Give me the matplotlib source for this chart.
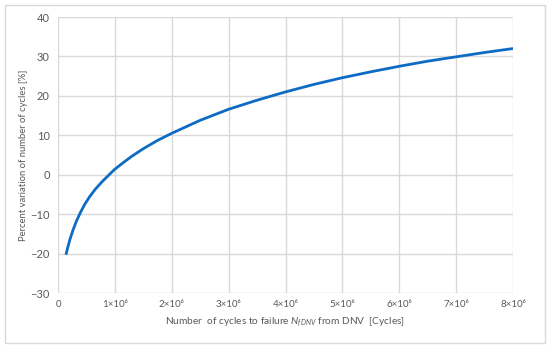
import matplotlib
matplotlib.use("Agg")
import matplotlib.pyplot as plt
from matplotlib.patches import Rectangle

# Data
cycles = [0.14e6, 0.17e6, 0.21e6, 0.26e6, 0.32e6, 0.39e6, 0.47e6, 0.56e6, 0.66e6,
          0.78e6, 0.90e6, 1.0e6, 1.15e6, 1.3e6, 1.5e6, 1.75e6, 2.0e6, 2.5e6, 3.0e6,
          3.5e6, 4.0e6, 4.5e6, 5.0e6, 5.5e6, 6.0e6, 6.5e6, 7.0e6, 7.5e6, 8.0e6]
variation = [-20.3, -18.5, -16.4, -14.2, -11.9, -9.7, -7.5, -5.5, -3.6,
             -1.7, 0.0, 1.4, 3.1, 4.7, 6.6, 8.7, 10.5, 13.8, 16.6,
             18.9, 21.0, 22.9, 24.6, 26.1, 27.5, 28.8, 29.9, 31.0, 32.0]

xticks = [0, 1e6, 2e6, 3e6, 4e6, 5e6, 6e6, 7e6, 8e6]
xticklabels = ["0", "1×10⁶", "2×10⁶", "3×10⁶", "4×10⁶", "5×10⁶", "6×10⁶", "7×10⁶", "8×10⁶"]
yticks = [-30, -20, -10, 0, 10, 20, 30, 40]

plt.rcParams['font.family'] = ['Lato', 'DejaVu Sans']
plt.rcParams['mathtext.fontset'] = 'custom'
plt.rcParams['mathtext.it'] = 'Lato:italic'
plt.rcParams['mathtext.rm'] = 'Lato'

fig = plt.figure(figsize=(5.5, 3.49), dpi=100)
fig.patches.append(Rectangle((5/550, 1 - 343/349), 540/550, 338/349,
                             transform=fig.transFigure, fill=False,
                             edgecolor='#D9D9D9', linewidth=1.0))
ax = fig.add_axes([58/550, 1 - 293/349, (513 - 58)/550, (293 - 17)/349])

ax.plot(cycles, variation, color='#0E6BC4', linewidth=2.0,
        solid_capstyle='butt', solid_joinstyle='round')

ax.set_xlim(0, 8e6)
ax.set_ylim(-30, 40)
ax.set_xticks(xticks)
ax.set_xticklabels(xticklabels)
ax.set_yticks(yticks)
ax.set_yticklabels([str(v).replace('-', '−') for v in yticks])
ax.grid(True, color='#D9D9D9', linewidth=1.0)
ax.set_axisbelow(True)
for s in ax.spines.values():
    s.set_visible(False)
ax.tick_params(axis='y', length=0, labelsize=8, colors='#595959', pad=6)
ax.tick_params(axis='x', length=0, labelsize=7, colors='#595959', pad=5)

ax.set_xlabel(r"Number  of cycles to failure $N_{fDNV}$ from DNV  [Cycles]",
              fontsize=7.3, color='#595959')
ax.xaxis.set_label_coords(0.5, -0.083)
ax.set_ylabel("Percent variation of number of cycles [%]", fontsize=6.8,
              color='#595959')
ax.yaxis.set_label_coords(-0.066, 0.5)

fig.savefig("out.png", dpi=100)
